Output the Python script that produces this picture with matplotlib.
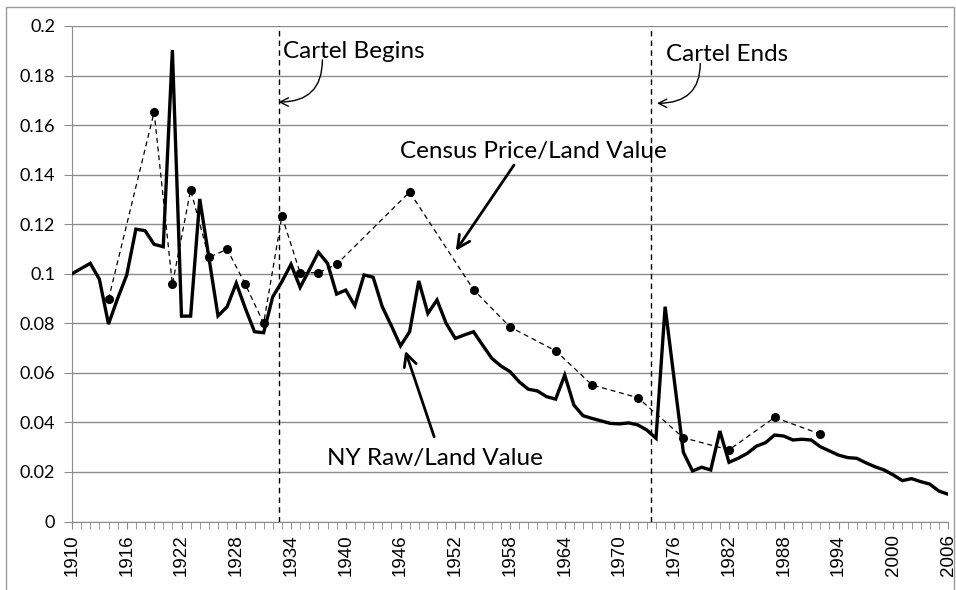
import matplotlib
matplotlib.use("Agg")
from matplotlib import pyplot as plt
from matplotlib.patches import Rectangle

# NY raw material / land value, one value per year 1910-2006
years = list(range(1910, 2007))
ny_raw = [0.1000, 0.1021, 0.1042, 0.0978, 0.0797, 0.0900, 0.0995, 0.1180, 0.1174, 0.1119,
          0.1109, 0.1903, 0.0829, 0.0829, 0.1302, 0.1066, 0.0830, 0.0867, 0.0962, 0.0860,
          0.0766, 0.0762, 0.0907, 0.0968, 0.1038, 0.0945, 0.1015, 0.1087, 0.1042, 0.0918,
          0.0934, 0.0871, 0.0995, 0.0986, 0.0867, 0.0790, 0.0709, 0.0766, 0.0971, 0.0840,
          0.0894, 0.0800, 0.0739, 0.0753, 0.0766, 0.0712, 0.0659, 0.0628, 0.0605, 0.0564,
          0.0534, 0.0527, 0.0504, 0.0494, 0.0591, 0.0470, 0.0427, 0.0416, 0.0406, 0.0396,
          0.0394, 0.0398, 0.0390, 0.0369, 0.0336, 0.0867, 0.0571, 0.0279, 0.0204, 0.0219,
          0.0208, 0.0365, 0.0239, 0.0255, 0.0275, 0.0304, 0.0318, 0.0349, 0.0345, 0.0329,
          0.0332, 0.0329, 0.0302, 0.0285, 0.0268, 0.0258, 0.0255, 0.0237, 0.0221, 0.0208,
          0.0188, 0.0165, 0.0173, 0.0161, 0.0151, 0.0123, 0.0110]

# census price / land value
census_years = [1914, 1919, 1921, 1923, 1925, 1927, 1929, 1931, 1933, 1935, 1937,
                1939, 1947, 1954, 1958, 1963, 1967, 1972, 1977, 1982, 1987, 1992]
census = [0.0897, 0.1653, 0.0957, 0.1338, 0.1066, 0.1099, 0.0957, 0.0800, 0.1233,
          0.1004, 0.1004, 0.1038, 0.1330, 0.0936, 0.0785, 0.0689, 0.0551, 0.0500,
          0.0338, 0.0289, 0.0420, 0.0353]

y_ticks = [0, 0.02, 0.04, 0.06, 0.08, 0.1, 0.12, 0.14, 0.16, 0.18, 0.2]
y_labels = ['0', '0.02', '0.04', '0.06', '0.08', '0.1', '0.12', '0.14', '0.16', '0.18', '0.2']
x_label_years = list(range(1910, 2007, 6))

cartel_begin = 1932.7
cartel_end = 1973.45

W, H = 956, 590
fig = plt.figure(figsize=(W / 100, H / 100), dpi=100)
ax = fig.add_axes([72 / W, (H - 521.5) / H, (948 - 72) / W, (521.5 - 26) / H])

# outer chart border
fig.patches.append(Rectangle((6 / W, -0.01), (954 - 6) / W, (H - 7) / H + 0.01,
                             transform=fig.transFigure, fill=False,
                             edgecolor='#9a9a9a', linewidth=1))

grid_c = '#8c8c8c'
ax.set_xlim(1910, 2006)
ax.set_ylim(0, 0.2)
ax.set_yticks(y_ticks)
ax.set_yticklabels(y_labels, fontfamily='Lato', fontsize=13)
ax.set_xticks(x_label_years)
ax.set_xticklabels([str(y) for y in x_label_years], rotation=90,
                   fontfamily='Liberation Sans', fontsize=13.5)
ax.set_xticks(years, minor=True)
ax.yaxis.grid(True, color=grid_c, linewidth=1)
ax.set_axisbelow(True)
for s in ['top', 'right']:
    ax.spines[s].set_visible(False)
for s in ['left', 'bottom']:
    ax.spines[s].set_color(grid_c)
ax.tick_params(axis='y', length=6, color=grid_c, pad=6)
ax.tick_params(axis='x', which='both', length=5, color=grid_c, pad=4)

ax.plot(years, ny_raw, color='black', linewidth=2.4, solid_joinstyle='miter', zorder=3)
ax.plot(census_years, census, color='black', linewidth=0.9, linestyle=(0, (4, 3)),
        marker='o', markersize=5.5, zorder=4)

for xv in [cartel_begin, cartel_end]:
    ax.plot([xv, xv], [0, 0.2], color='black', linewidth=1, linestyle=(0, (4, 3)),
            zorder=2, clip_on=False)

txt = dict(fontfamily='Lato', fontsize=17.5, color='black', va='center', ha='left')
ax.text(1933.07, 0.1899, 'Cartel Begins', **txt)
ax.text(1975.06, 0.1885, 'Cartel Ends', **txt)
ax.text(1946.0, 0.1495, 'Census Price/Land Value', **txt)
ax.text(1937.9, 0.0255, 'NY Raw/Land Value', **txt)

thin = dict(arrowstyle='->,head_length=0.6,head_width=0.3', color='black', lw=1,
            connectionstyle='angle3,angleA=90,angleB=0', shrinkA=0, shrinkB=0)
ax.annotate('', xy=(1932.63, 0.1693), xytext=(1937.44, 0.1863), arrowprops=thin)
ax.annotate('', xy=(1974.1, 0.1688), xytext=(1978.85, 0.1849), arrowprops=thin)

thick = dict(arrowstyle='->,head_length=0.9,head_width=0.45', color='black', lw=2,
             shrinkA=0, shrinkB=0)
ax.annotate('', xy=(1952.06, 0.1093), xytext=(1958.44, 0.1439), arrowprops=thick)
ax.annotate('', xy=(1946.52, 0.0689), xytext=(1949.69, 0.0342), arrowprops=thick)

fig.savefig('out.png', dpi=100)
